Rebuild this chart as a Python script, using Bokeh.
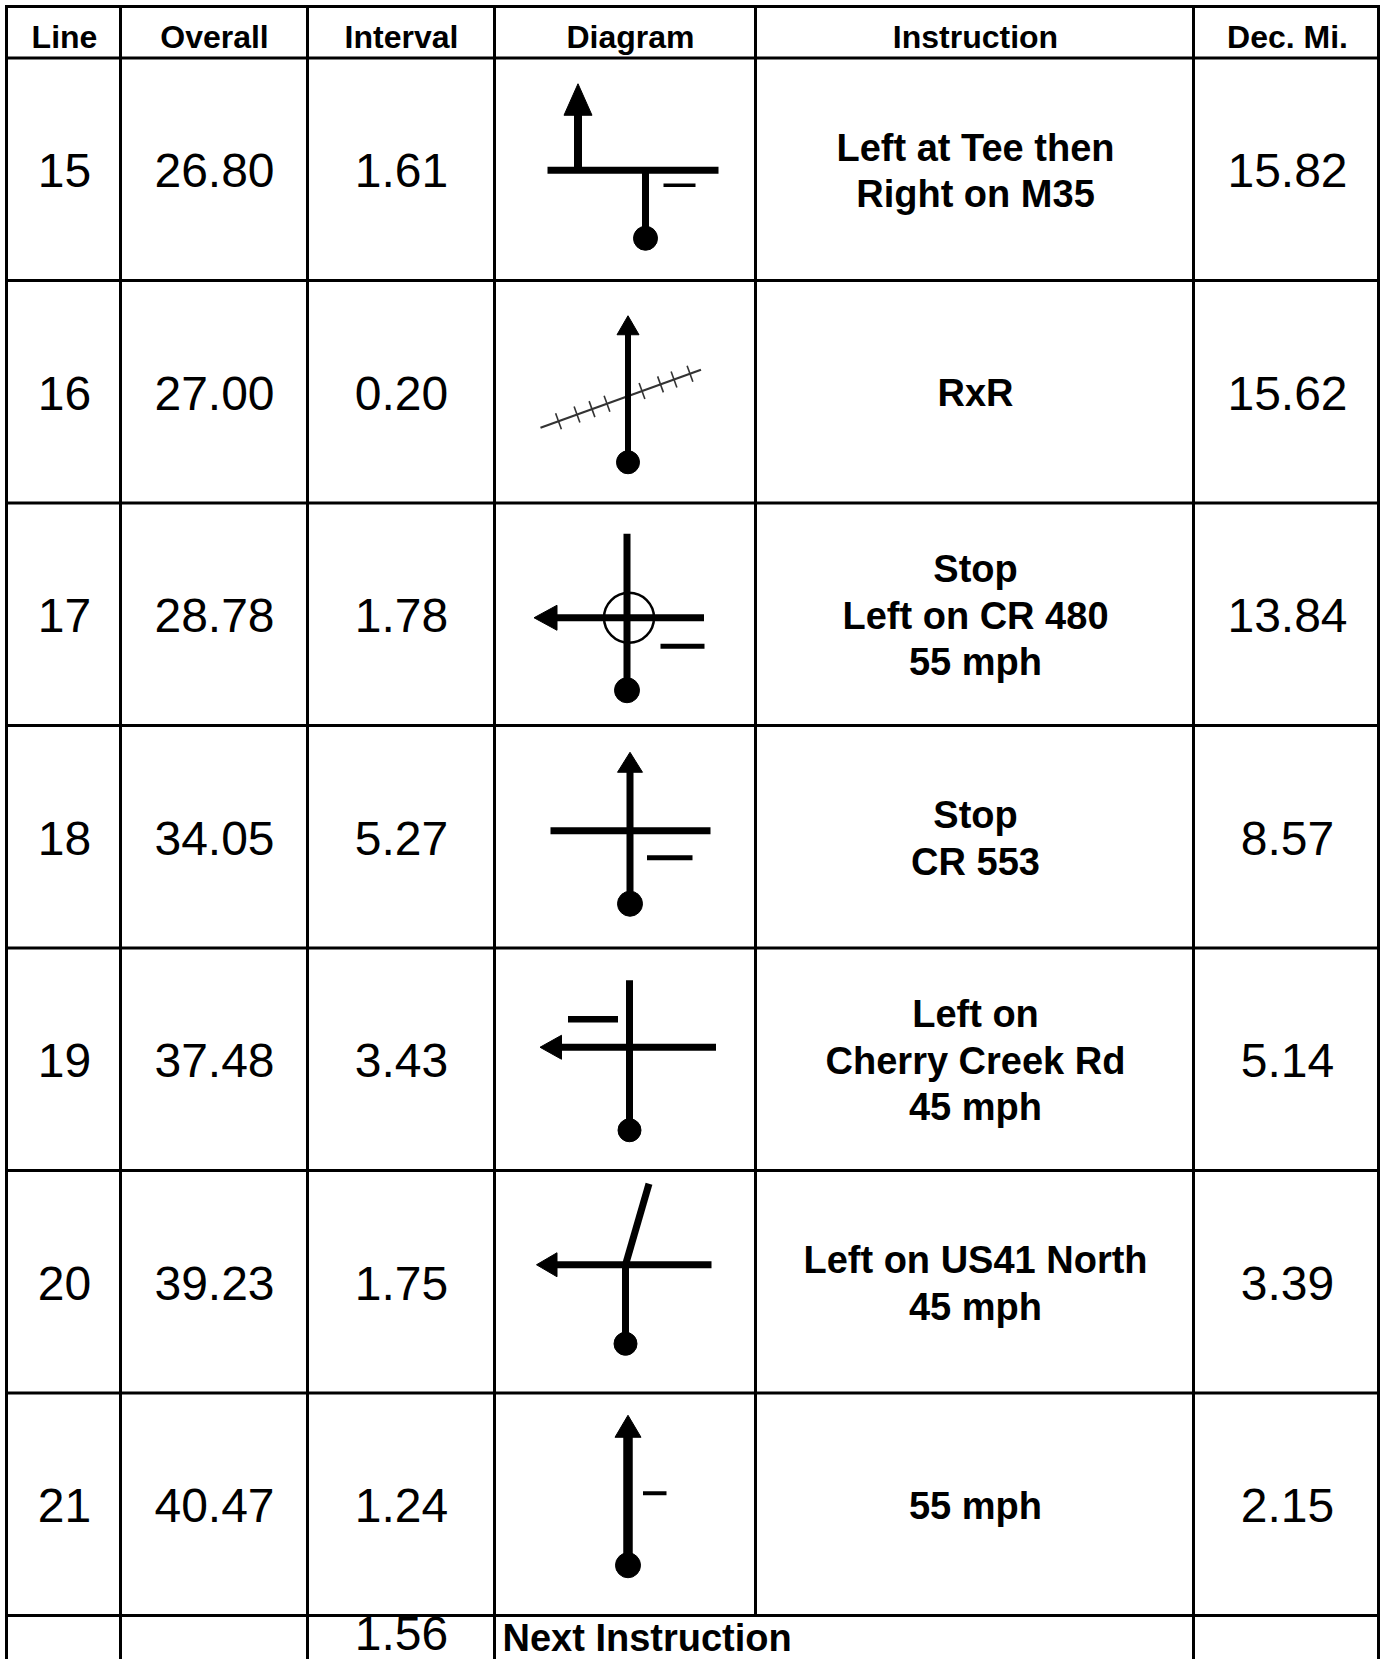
from bokeh.plotting import figure
from bokeh.models import Range1d, ColumnDataSource
from bokeh.core.properties import value
from bokeh.embed import file_html
from bokeh.resources import INLINE

# ---------------- data ----------------
headers = ["Line", "Overall", "Interval", "Diagram", "Instruction", "Dec. Mi."]
line_no = ["15", "16", "17", "18", "19", "20", "21"]
overall = ["26.80", "27.00", "28.78", "34.05", "37.48", "39.23", "40.47"]
interval = ["1.61", "0.20", "1.78", "5.27", "3.43", "1.75", "1.24"]
instruction = [
    "Left at Tee then\nRight on M35",
    "RxR",
    "Stop\nLeft on CR 480\n55 mph",
    "Stop\nCR 553",
    "Left on\nCherry Creek Rd\n45 mph",
    "Left on US41 North\n45 mph",
    "55 mph",
]
dec_mi = ["15.82", "15.62", "13.84", "8.57", "5.14", "3.39", "2.15"]
next_interval = "1.56"
next_label = "Next Instruction"

# ---------------- layout (page pixels) ----------------
W, H = 1380, 1659
col_edges = [6, 120, 307, 494, 755, 1193, 1378]
col_centers = [64, 214, 401, 624.5, 975, 1287]
header_x = [64, 214, 401, 630, 975, 1287]
top_y, head_bottom, row_h = 6, 57.5, 222.5
n_rows = len(line_no)
row_edges = [head_bottom + i * row_h for i in range(n_rows + 1)]
row_centers = [head_bottom + (i + 0.5) * row_h for i in range(n_rows)]
bottom_y = 1665
FONT = value("Liberation Sans")

p = figure(width=W, height=H, output_backend="svg", toolbar_location=None,
           x_range=Range1d(0, W), y_range=Range1d(H, 0),
           x_axis_type=None, y_axis_type=None, min_border=0,
           outline_line_color=None, background_fill_color="white",
           border_fill_color="white")
p.grid.visible = False

# ---------------- table lines ----------------
hx0, hy0, hx1, hy1 = [], [], [], []
for y in [top_y] + row_edges:
    hx0.append(col_edges[0]); hx1.append(col_edges[-1]); hy0.append(y); hy1.append(y)
for j, x in enumerate(col_edges):
    hx0.append(x); hx1.append(x); hy0.append(top_y)
    hy1.append(row_edges[-1] if j == 4 else bottom_y)
p.segment(x0=hx0, y0=hy0, x1=hx1, y1=hy1, line_color="black", line_width=3,
          line_cap="square")

# ---------------- texts ----------------
p.text(x=header_x, y=[36] * 6, text=headers, text_font=FONT,
       text_font_size="32px", text_font_style="bold", text_align="center",
       text_baseline="middle", text_color="black")

num_x, num_y, num_t = [], [], []
for i in range(n_rows):
    for c, arr in [(0, line_no), (1, overall), (2, interval), (5, dec_mi)]:
        num_x.append(col_centers[c]); num_y.append(row_centers[i] + 1.5); num_t.append(arr[i])
num_x.append(col_centers[2]); num_y.append(1633); num_t.append(next_interval)
p.text(x=num_x, y=num_y, text=num_t, text_font=FONT, text_font_size="48px",
       text_align="center", text_baseline="middle", text_color="black")

ins_x, ins_y, ins_t = [], [], []
for i, s in enumerate(instruction):
    parts = s.split("\n")
    n = len(parts)
    for k, part in enumerate(parts):
        ins_x.append(col_centers[4])
        ins_y.append(row_centers[i] + 1.5 + (k - (n - 1) / 2) * 46.5)
        ins_t.append(part)
p.text(x=ins_x, y=ins_y, text=ins_t, text_font=FONT, text_font_size="38px",
       text_font_style="bold", text_align="center", text_baseline="middle",
       text_color="black")
p.text(x=[502], y=[1637], text=[next_label], text_font=FONT, text_font_size="38px",
       text_font_style="bold", text_align="left", text_baseline="middle",
       text_color="black")

# ---------------- diagrams (offsets from cell centre) ----------------
diagrams = [
    dict(seg=[(-77.5, 1, 93.5, 1, 7), (-47, 1, -47, -56, 8), (20.5, 1, 20.5, 68, 7),
              (38.5, 16, 70.5, 16, 3.5)],
         up=[(-47, -85.5, 31.5, 14)], left=[], ball=[(20.5, 69, 12)], ring=[], rail=None),
    dict(seg=[(3, -60, 3, 70.5, 6)],
         up=[(3, -76, 19, 11)], left=[], ball=[(3, 70.5, 11.5)], ring=[],
         rail=((-84.5, 36), (76, -22), [-66.5, -48, -33, -18, 17, 35.5, 49, 65])),
    dict(seg=[(2, -80.5, 2, 76, 7), (-70, 3.5, 79, 3.5, 7), (35.5, 32, 79.5, 32, 5)],
         up=[], left=[(-91, 3.5, 23, 12.5)], ball=[(2, 76, 12.5)], ring=[(4, 3.5, 25)], rail=None),
    dict(seg=[(5, -66, 5, 67, 7), (-74.5, -6, 85.5, -6, 7), (22, 21, 67.5, 21, 5)],
         up=[(5, -84.5, 20, 12.5)], left=[], ball=[(5, 67, 12.5)], ring=[], rail=None),
    dict(seg=[(4.5, -79, 4.5, 71, 7), (-65, -12, 91, -12, 7), (-57, -40, -7, -40, 6.5)],
         up=[], left=[(-85, -12, 21.5, 12)], ball=[(4.5, 71, 11.5)], ring=[], rail=None),
    dict(seg=[(0.5, -17, 0.5, 62, 7), (-70, -17, 86.5, -17, 7), (0.5, -17, 24, -98, 7)],
         up=[], left=[(-88.5, -17, 20.5, 12)], ball=[(0.5, 62, 11.5)], ring=[], rail=None),
    dict(seg=[(3, -69, 3, 61, 9.5), (18, -11, 41.5, -11, 4)],
         up=[(3, -89, 22, 13)], left=[], ball=[(3, 61, 12.5)], ring=[], rail=None),
]

cx = col_centers[3]
sx0, sy0, sx1, sy1, sw = [], [], [], [], []
px, py = [], []
bx, by, br = [], [], []
rx, ry, rr = [], [], []
tx0, ty0, tx1, ty1 = [], [], [], []
lx0, ly0, lx1, ly1 = [], [], [], []
for i, d in enumerate(diagrams):
    cy = row_centers[i]
    for (a, b, c, e, w) in d["seg"]:
        sx0.append(cx + a); sy0.append(cy + b); sx1.append(cx + c); sy1.append(cy + e); sw.append(w)
    for (tx, ty, L, hw) in d["up"]:
        px.append([cx + tx, cx + tx - hw, cx + tx + hw])
        py.append([cy + ty, cy + ty + L, cy + ty + L])
    for (tx, ty, L, hw) in d["left"]:
        px.append([cx + tx, cx + tx + L, cx + tx + L])
        py.append([cy + ty, cy + ty - hw, cy + ty + hw])
    for (a, b, r) in d["ball"]:
        bx.append(cx + a); by.append(cy + b); br.append(r)
    for (a, b, r) in d["ring"]:
        rx.append(cx + a); ry.append(cy + b); rr.append(r)
    if d["rail"]:
        (ax, ay), (ex, ey), ticks = d["rail"]
        lx0.append(cx + ax); ly0.append(cy + ay); lx1.append(cx + ex); ly1.append(cy + ey)
        dx, dy = ex - ax, ey - ay
        ln = (dx * dx + dy * dy) ** 0.5
        nx, ny = -dy / ln, dx / ln
        for t in ticks:
            yy = ay + (t - ax) * dy / dx
            tx0.append(cx + t - nx * 8.5); ty0.append(cy + yy - ny * 8.5)
            tx1.append(cx + t + nx * 8.5); ty1.append(cy + yy + ny * 8.5)

p.segment(x0=lx0, y0=ly0, x1=lx1, y1=ly1, line_color="#333333", line_width=2.2)
p.segment(x0=tx0, y0=ty0, x1=tx1, y1=ty1, line_color="#333333", line_width=1.6)
seg_src = ColumnDataSource(dict(x0=sx0, y0=sy0, x1=sx1, y1=sy1, w=sw))
p.segment(x0="x0", y0="y0", x1="x1", y1="y1", line_width="w", line_color="black",
          line_cap="butt", source=seg_src)
p.patches(xs=px, ys=py, fill_color="black", line_color="black", line_width=1)
p.circle(x=bx, y=by, radius=br, fill_color="black", line_color="black")
p.circle(x=rx, y=ry, radius=rr, fill_color=None, line_color="black", line_width=2.5)

open("out.html", "w").write(file_html(p, INLINE))
